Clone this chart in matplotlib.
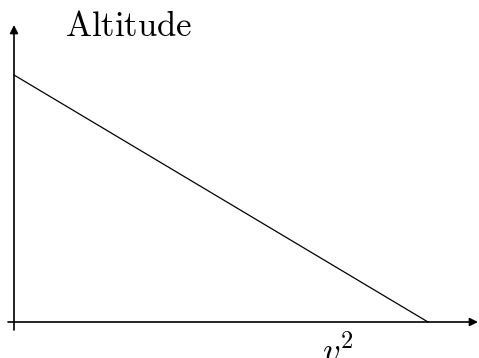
import matplotlib.pyplot as plt

plt.rcParams['mathtext.fontset'] = 'cm'

# altitude falls linearly with v^2
v2 = [0.0, 1.0]
altitude = [1.0, 0.0]

W, H = 479, 358
fig = plt.figure(figsize=(W / 100, H / 100), dpi=100)
x0, y0 = 14, 322          # origin in pixels
sx, sy = 414, 247         # pixels per unit
ax = fig.add_axes([x0 / W, (H - y0) / H, sx / W, sy / H])
ax.set_xlim(0, 1)
ax.set_ylim(0, 1)
ax.axis('off')

ax.plot(v2, altitude, color='black', lw=0.9, clip_on=False)

# axes with arrow heads
arr = dict(arrowstyle='-|>', color='black', lw=1.2, mutation_scale=12,
           shrinkA=0, shrinkB=0)
ax.annotate('', xy=(464 / sx, 0), xytext=(-6 / sx, 0),
            arrowprops=arr, annotation_clip=False)
ax.annotate('', xy=(0, 297 / sy), xytext=(0, -8 / sy),
            arrowprops=arr, annotation_clip=False)

ax.text(51 / sx, 286 / sy, r'$\mathrm{Altitude}$', fontsize=25,
        ha='left', va='baseline')
ax.text(308 / sx, -40 / sy, r'$v^2$', fontsize=25,
        ha='left', va='baseline')

fig.savefig('out.png', dpi=100)
